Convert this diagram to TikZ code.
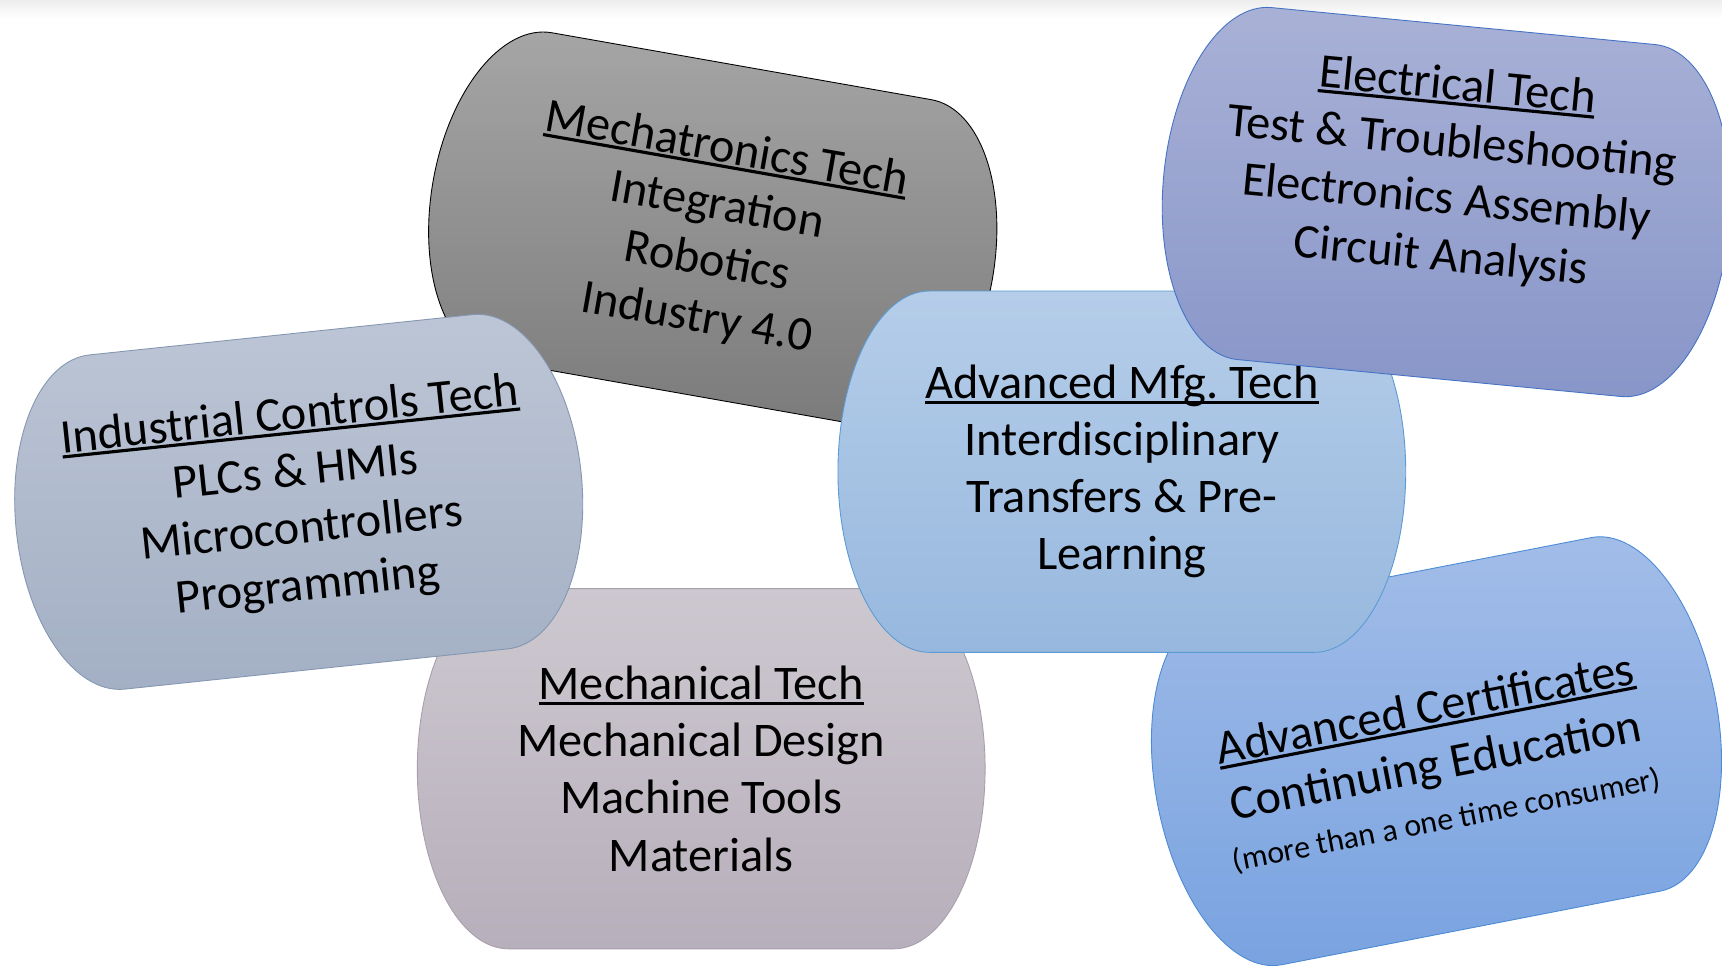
\documentclass[tikz,border=0pt]{standalone}
\usepackage{fontspec}
\setmainfont{Carlito}
\frenchspacing
\newcommand\ulin[1]{\setbox0\hbox{#1}\rlap{\rule[-0.11em]{\wd0}{0.065em}}\box0}
\newcommand\smallfnt{\fontsize{29}{35}\selectfont}
\newcommand\termshape[3]{%
  \pgfmathsetmacro\trmA{#2/2}%
  \pgfmathsetmacro\trmB{#3/2}%
  \pgfmathsetmacro\trmR{0.1609*#2}%
  \pgfmathsetmacro\trmS{\trmA-\trmR}%
  \path[#1] (-\trmS,\trmB) -- (\trmS,\trmB)
    arc[start angle=90,end angle=-90,x radius=\trmR,y radius=\trmB]
    -- (-\trmS,-\trmB)
    arc[start angle=270,end angle=90,x radius=\trmR,y radius=\trmB] -- cycle;}
\definecolor{mtTop}{HTML}{A6A6A6}\definecolor{mtBot}{HTML}{7A7A7A}
\definecolor{icTop}{HTML}{BDC6D6}\definecolor{icBot}{HTML}{A3AFC4}\definecolor{icLine}{HTML}{8497B0}
\definecolor{meTop}{HTML}{CDC8D0}\definecolor{meBot}{HTML}{B7AFBB}\definecolor{meLine}{HTML}{A89FAB}
\definecolor{amTop}{HTML}{B5CDE9}\definecolor{amBot}{HTML}{97B8DE}\definecolor{amLine}{HTML}{5B9BD5}
\definecolor{etTop}{HTML}{A9B1D6}\definecolor{etBot}{HTML}{8795C8}\definecolor{etLine}{HTML}{4472C4}
\definecolor{acTop}{HTML}{A3BDE8}\definecolor{acBot}{HTML}{78A2E0}\definecolor{acLine}{HTML}{4A8AD6}
\begin{document}
\begin{tikzpicture}[x=1pt,y=1pt,
  lbl/.style={align=center,font=\fontsize{44}{52}\selectfont,inner sep=0pt}]
\useasboundingbox (0,0) rectangle (1568,881);
\fill[white] (0,0) rectangle (1568,881);
\shade[top color=black!7,bottom color=white] (0,864) rectangle (1568,881);
% Mechatronics
\begin{scope}[shift={(649,671.5)},rotate=-10,transform shape]
  \termshape{draw=black,line width=0.8pt,top color=mtTop,bottom color=mtBot}{517}{303}
  \node[lbl] (mech) at (0,-4) {\ulin{Mechatronics Tech}\\Integration\\Robotics\\Industry 4.0};
\end{scope}
% Mechanical
\begin{scope}[shift={(638.5,181)}]
  \termshape{draw=meLine,line width=0.8pt,top color=meTop,bottom color=meBot}{517}{328}
  \node[lbl] (mecht) at (0,0) {\ulin{Mechanical Tech}\\Mechanical Design\\Machine Tools\\Materials};
\end{scope}
% Advanced certificates
\begin{scope}[shift={(1308,197)},rotate=11,transform shape]
  \termshape{draw=acLine,line width=0.8pt,top color=acTop,bottom color=acBot}{517}{328}
  \node[lbl] (cert) at (-3,-10) {\ulin{Advanced Certificates}\\Continuing Education\\[-6pt]{\smallfnt (more than a one time consumer)}};
\end{scope}
% Industrial controls
\begin{scope}[shift={(272,424)},rotate=6,transform shape]
  \termshape{draw=icLine,line width=0.8pt,top color=icTop,bottom color=icBot}{517}{306}
  \node[lbl] (ictl) at (0,0) {\ulin{Industrial Controls Tech}\\PLCs \& HMIs\\Microcontrollers\\Programming};
\end{scope}
% Advanced Mfg
\begin{scope}[shift={(1021.5,451.5)}]
  \termshape{draw=amLine,line width=0.8pt,top color=amTop,bottom color=amBot}{517}{329}
  \node[lbl] (amfg) at (0,0) {\ulin{Advanced Mfg. Tech}\\Interdisciplinary\\Transfers \& Pre-\\Learning};
\end{scope}
% Electrical
\begin{scope}[shift={(1317,697)},rotate=-5.5,transform shape]
  \termshape{draw=etLine,line width=0.8pt,top color=etTop,bottom color=etBot}{517}{322}
  \node[lbl] (elec) at (0,27) {\ulin{Electrical Tech}\\Test \& Troubleshooting\\Electronics Assembly\\Circuit Analysis};
\end{scope}
\end{tikzpicture}
\end{document}
